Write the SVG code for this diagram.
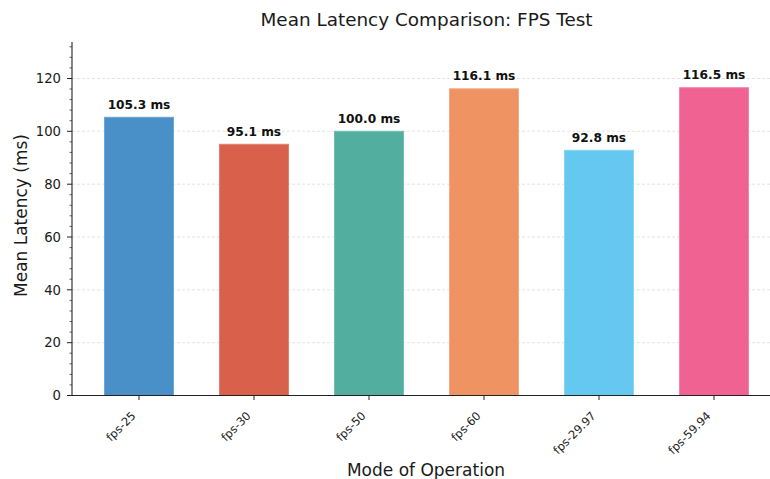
<svg xmlns="http://www.w3.org/2000/svg" width="770" height="479" viewBox="0 0 770 479">
<style>
text{font-family:"DejaVu Sans","Liberation Sans",sans-serif;fill:#1a1a1a}
.grid{stroke:#dcdcdc;stroke-width:0.8;stroke-dasharray:3,2}
.spine{stroke:#222;stroke-width:1.1;fill:none}
.tick{stroke:#222;stroke-width:1}
.minor{stroke:#222;stroke-width:0.7}
.ytl{font-size:13.2px;text-anchor:end}
.xtl{font-size:11.5px;text-anchor:end}
.val{font-size:12.2px;font-weight:bold;text-anchor:middle;fill:#111}
.bar{stroke-width:1}
</style>
<rect width="770" height="479" fill="#fff"/>
<g id="grid">
<line class="grid" x1="72" x2="770" y1="342.7" y2="342.7"/>
<line class="grid" x1="72" x2="770" y1="289.8" y2="289.8"/>
<line class="grid" x1="72" x2="770" y1="237.0" y2="237.0"/>
<line class="grid" x1="72" x2="770" y1="184.2" y2="184.2"/>
<line class="grid" x1="72" x2="770" y1="131.3" y2="131.3"/>
<line class="grid" x1="72" x2="770" y1="78.5" y2="78.5"/>
</g>
<g id="bar-fps-25">
<rect class="bar" x="104.5" y="117.3" width="69" height="278.2" fill="#4a90c8" stroke="#6aa6d6"/>
<text class="val" x="139" y="108.8">105.3 ms</text>
</g>
<g id="bar-fps-30">
<rect class="bar" x="219.5" y="144.3" width="69" height="251.2" fill="#d9604b" stroke="#e28070"/>
<text class="val" x="254" y="135.8">95.1 ms</text>
</g>
<g id="bar-fps-50">
<rect class="bar" x="334.5" y="131.3" width="69" height="264.2" fill="#52ae9f" stroke="#74bfb3"/>
<text class="val" x="369" y="122.8">100.0 ms</text>
</g>
<g id="bar-fps-60">
<rect class="bar" x="449.5" y="88.8" width="69" height="306.7" fill="#f09363" stroke="#f4ab85"/>
<text class="val" x="484" y="80.3">116.1 ms</text>
</g>
<g id="bar-fps-29.97">
<rect class="bar" x="564.5" y="150.3" width="69" height="245.2" fill="#64c8f0" stroke="#88d6f4"/>
<text class="val" x="599" y="141.8">92.8 ms</text>
</g>
<g id="bar-fps-59.94">
<rect class="bar" x="679.5" y="87.7" width="69" height="307.8" fill="#f06292" stroke="#f484aa"/>
<text class="val" x="714" y="79.2">116.5 ms</text>
</g>
<g id="axes">
<line class="spine" x1="72" y1="42" x2="72" y2="395.5"/>
<line class="spine" x1="72" y1="395.5" x2="770" y2="395.5"/>
<g id="yticks">
<line class="tick" x1="67" x2="72" y1="395.5" y2="395.5"/>
<line class="tick" x1="67" x2="72" y1="342.7" y2="342.7"/>
<line class="tick" x1="67" x2="72" y1="289.8" y2="289.8"/>
<line class="tick" x1="67" x2="72" y1="237.0" y2="237.0"/>
<line class="tick" x1="67" x2="72" y1="184.2" y2="184.2"/>
<line class="tick" x1="67" x2="72" y1="131.3" y2="131.3"/>
<line class="tick" x1="67" x2="72" y1="78.5" y2="78.5"/>
<path class="minor" d="M69.5 384.9H72M69.5 374.4H72M69.5 363.8H72M69.5 353.2H72M69.5 332.1H72M69.5 321.5H72M69.5 311.0H72M69.5 300.4H72M69.5 279.2H72M69.5 268.7H72M69.5 258.1H72M69.5 247.6H72M69.5 226.4H72M69.5 215.8H72M69.5 205.3H72M69.5 194.7H72M69.5 173.6H72M69.5 163.0H72M69.5 152.4H72M69.5 141.9H72M69.5 120.7H72M69.5 110.1H72M69.5 99.6H72M69.5 89.0H72M69.5 67.9H72M69.5 57.3H72M69.5 46.8H72"/>
<text class="ytl" x="61" y="400.2">0</text>
<text class="ytl" x="61" y="347.4">20</text>
<text class="ytl" x="61" y="294.5">40</text>
<text class="ytl" x="61" y="241.7">60</text>
<text class="ytl" x="61" y="188.9">80</text>
<text class="ytl" x="61" y="136">100</text>
<text class="ytl" x="61" y="83.2">120</text>
</g>
<g id="xticks">
<path class="tick" d="M139 395.5V400M254 395.5V400M369 395.5V400M484 395.5V400M599 395.5V400M714 395.5V400"/>
<text class="xtl" transform="translate(136.5,416.5) rotate(-45)">fps-25</text>
<text class="xtl" transform="translate(251.5,416.5) rotate(-45)">fps-30</text>
<text class="xtl" transform="translate(366.5,416.5) rotate(-45)">fps-50</text>
<text class="xtl" transform="translate(481.5,416.5) rotate(-45)">fps-60</text>
<text class="xtl" transform="translate(596.5,416.5) rotate(-45)">fps-29.97</text>
<text class="xtl" transform="translate(711.5,416.5) rotate(-45)">fps-59.94</text>
</g>
</g>
<text x="426.5" y="26" font-size="18.4" text-anchor="middle">Mean Latency Comparison: FPS Test</text>
<text x="426" y="476" font-size="17" text-anchor="middle">Mode of Operation</text>
<text transform="translate(26.5,215.5) rotate(-90)" font-size="17" text-anchor="middle">Mean Latency (ms)</text>
</svg>
